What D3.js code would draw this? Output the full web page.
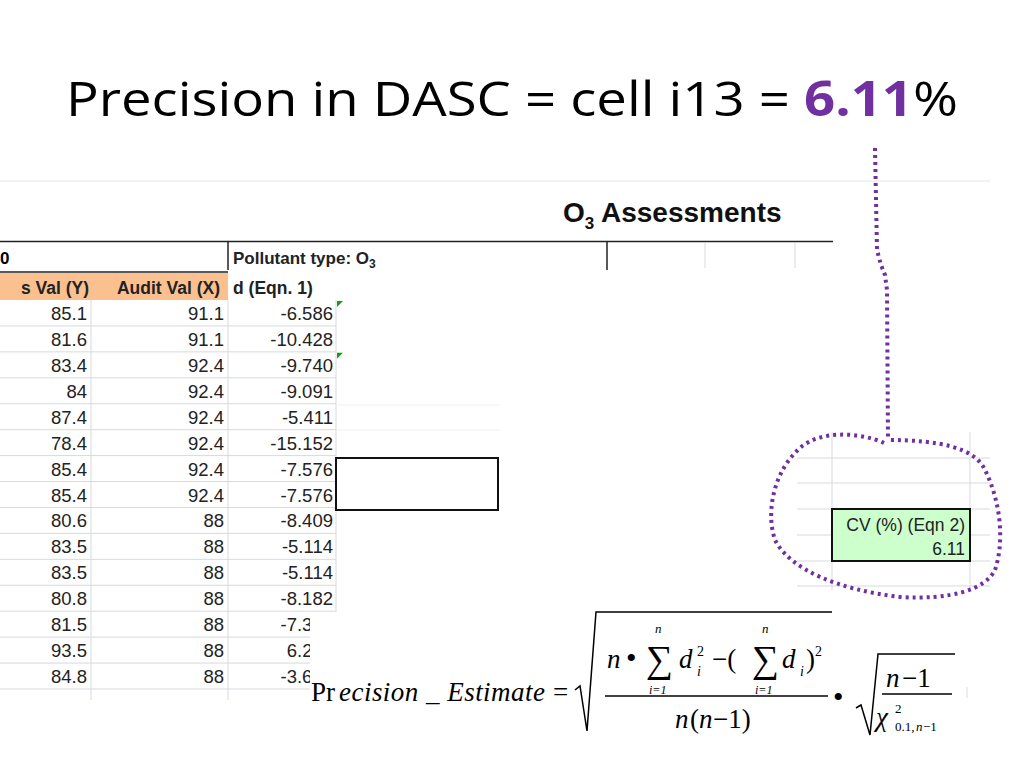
<!DOCTYPE html>
<html><head><meta charset="utf-8">
<script src="https://cdn.jsdelivr.net/npm/d3@7"></script>
<style>body{margin:0;background:#fff}svg{display:block}</style>
</head><body>
<script>
const measVals = ["85.1","81.6","83.4","84","87.4","78.4","85.4","85.4","80.6","83.5","83.5","80.8","81.5","93.5","84.8"];
const auditVals = ["91.1","91.1","92.4","92.4","92.4","92.4","92.4","92.4","88","88","88","88","88","88","88"];
const dVals = ["-6.586","-10.428","-9.740","-9.091","-5.411","-15.152","-7.576","-7.576","-8.409","-5.114","-5.114","-8.182","-7.386","6.250","-3.636"];
const headers = ["s Val (Y)","Audit Val (X)","d (Eqn. 1)"];
const cvLabel = "CV (%) (Eqn 2)";
const cvValue = "6.11";

const W=1024,H=768;
const svg=d3.select("body").append("svg").attr("width",W).attr("height",H);
const grid="#d6d9e0", af="Liberation Sans, Arial, sans-serif";

const t=svg.append("text").attr("x",66).attr("y",116).attr("font-family","Open Sans, sans-serif").attr("font-size",48).attr("fill","#000").attr("textLength",892).attr("lengthAdjust","spacingAndGlyphs");
t.append("tspan").text("Precision in DASC = cell i13 = ");
t.append("tspan").text("6.11").attr("fill","#7030a0").attr("font-weight","bold");
t.append("tspan").text("%");

svg.append("line").attr("x1",0).attr("x2",990).attr("y1",181).attr("y2",181).attr("stroke","#e3e5ea");

const o3=svg.append("text").attr("x",563).attr("y",222).attr("font-family",af).attr("font-weight","bold").attr("font-size",28).attr("fill","#111");
o3.append("tspan").text("O");
o3.append("tspan").text("3").attr("font-size",17).attr("dy",7);
o3.append("tspan").text(" Assessments").attr("dy",-7);

const y=d3.scaleBand().domain(d3.range(measVals.length)).range([300,689]);
const colRight=[87,224,333];
const colLines=[0,91,228,336];

svg.append("rect").attr("x",0).attr("y",273).attr("width",228).attr("height",27).attr("fill","#fac090");
svg.append("line").attr("x1",0).attr("x2",833).attr("y1",241.5).attr("y2",241.5).attr("stroke","#222").attr("stroke-width",1.5);
svg.append("line").attr("x1",0).attr("x2",228).attr("y1",272).attr("y2",272).attr("stroke","#222").attr("stroke-width",1.5);
[228,607].forEach(x=>svg.append("line").attr("x1",x).attr("x2",x).attr("y1",241).attr("y2",270).attr("stroke","#222").attr("stroke-width",1.5));
[705,795].forEach(x=>svg.append("line").attr("x1",x).attr("x2",x).attr("y1",243).attr("y2",268).attr("stroke",grid));
svg.append("text").attr("x",0).attr("y",264).attr("font-family",af).attr("font-weight","bold").attr("font-size",17).text("0");
const pt=svg.append("text").attr("x",233).attr("y",264).attr("font-family",af).attr("font-weight","bold").attr("font-size",17).attr("fill","#222");
pt.append("tspan").text("Pollutant type: O");
pt.append("tspan").text("3").attr("font-size",12).attr("dy",4);
svg.selectAll("text.hdr").data(headers).join("text").attr("class","hdr")
 .attr("x",(d,i)=>i<2?[89,220][i]:233).attr("text-anchor",(d,i)=>i<2?"end":"start")
 .attr("y",294).attr("font-family",af).attr("font-weight","bold").attr("font-size",17.5).attr("fill","#222").text(d=>d);

const rows=d3.range(measVals.length);
svg.selectAll("line.hg").data(rows).join("line").attr("class","hg")
 .attr("x1",0).attr("x2",336).attr("y1",d=>y(d)+y.bandwidth()).attr("y2",d=>y(d)+y.bandwidth()).attr("stroke",grid);
colLines.slice(1).forEach(x=>svg.append("line").attr("x1",x).attr("x2",x).attr("y1",300).attr("y2",700).attr("stroke",grid));
[405,430].forEach(yy=>svg.append("line").attr("x1",336).attr("x2",500).attr("y1",yy).attr("y2",yy).attr("stroke","#eef0f3"));

const cols=[measVals,auditVals,dVals];
cols.forEach((arr,ci)=>{
  svg.selectAll("text.c"+ci).data(arr).join("text").attr("class","c"+ci)
   .attr("x",colRight[ci]).attr("y",(d,i)=>y(i)+y.bandwidth()/2+7).attr("text-anchor","end")
   .attr("font-family",af).attr("font-size",18.5).attr("fill","#222").text(d=>d);
});
[0,2].forEach(i=>svg.append("path").attr("d",`M337,${y(i)+1}h6l-6,6z`).attr("fill","#1a9a1a"));

svg.append("rect").attr("x",336).attr("y",458).attr("width",162).attr("height",52).attr("fill","none").attr("stroke","#111").attr("stroke-width",2);

[458,483,509,535,561,586].forEach(yy=>svg.append("line").attr("x1",797).attr("x2",990).attr("y1",yy).attr("y2",yy).attr("stroke",grid));
[832,970].forEach(x=>svg.append("line").attr("x1",x).attr("x2",x).attr("y1",432).attr("y2",590).attr("stroke",grid));
svg.append("rect").attr("x",832).attr("y",509).attr("width",138).attr("height",52).attr("fill","#ccffcc").attr("stroke","#111").attr("stroke-width",2);
svg.append("text").attr("x",965).attr("y",531).attr("text-anchor","end").attr("font-family",af).attr("font-size",17.5).attr("fill","#222").text(cvLabel);
svg.append("text").attr("x",965).attr("y",555).attr("text-anchor","end").attr("font-family",af).attr("font-size",17.5).attr("fill","#222").text(cvValue);

svg.append("rect").attr("x",310).attr("y",612).attr("width",700).attr("height",156).attr("fill","#fff");

const pc="#7030a0";
svg.append("path").attr("d","M875,148 L877,250 L881,265 L885,275 L887,290 L888,440")
 .attr("fill","none").attr("stroke",pc).attr("stroke-width",4).attr("stroke-dasharray","3,4");
svg.append("path").attr("d","M884,443 C860,432 820,430 800,448 C775,470 765,510 775,540 C790,570 840,590 900,597 C950,600 985,590 995,570 C1005,540 1000,500 985,470 C975,448 940,440 888,440")
 .attr("fill","none").attr("stroke",pc).attr("stroke-width",4).attr("stroke-dasharray","3,4");

const sf="Liberation Serif, Times New Roman, serif";
const g=svg.append("g").attr("font-family",sf).attr("fill","#000");
function tx(x,yy,s,sz,it){return g.append("text").attr("x",x).attr("y",yy).attr("font-size",sz).attr("font-style",it?"italic":"normal").text(s);}
tx(311,701,"Pr",27);
tx(339,701,"ecision _ Estimate",27,true).attr("textLength",206);
tx(553,701,"=",27);
g.append("path").attr("d","M575,690 L580,686 L587,731 L596,612 L832,612").attr("fill","none").attr("stroke","#000").attr("stroke-width",1.5);
tx(607,668,"n",27,true);tx(626,668,"•",30);
tx(646,672,"∑",38);tx(655,633,"n",13,true);tx(649,694,"i=1",12,true);
tx(679,668,"d",27,true);tx(697,656,"2",14);tx(697,676,"i",14,true);
tx(712,668,"−(",27);
tx(752,672,"∑",38);tx(762,633,"n",13,true);tx(755,694,"i=1",12,true);
tx(782,668,"d",27,true);tx(800,676,"i",14,true);tx(806,668,")",27);tx(815,656,"2",14);
g.append("line").attr("x1",605).attr("x2",828).attr("y1",696).attr("y2",696).attr("stroke","#000").attr("stroke-width",1.5);
tx(675,728,"n",27,true);tx(690,728,"(",27);tx(699,728,"n",27,true);tx(713,728,"−1)",27);
tx(833,707,"•",30);
g.append("path").attr("d","M856,708 L861,705 L870,735 L878,654 L955,654").attr("fill","none").attr("stroke","#000").attr("stroke-width",1.5);
tx(886,687,"n",27,true);tx(902,687,"−1",27);
g.append("line").attr("x1",882).attr("x2",952).attr("y1",694).attr("y2",694).attr("stroke","#000").attr("stroke-width",1.5);
tx(876,726,"χ",27,true);tx(895,713,"2",13);tx(895,731,"0.1,",13);tx(916,731,"n",13,true);tx(923,731,"−1",13);
svg.append("line").attr("x1",967).attr("x2",967).attr("y1",687).attr("y2",698).attr("stroke","#ddd");
</script>
</body></html>
